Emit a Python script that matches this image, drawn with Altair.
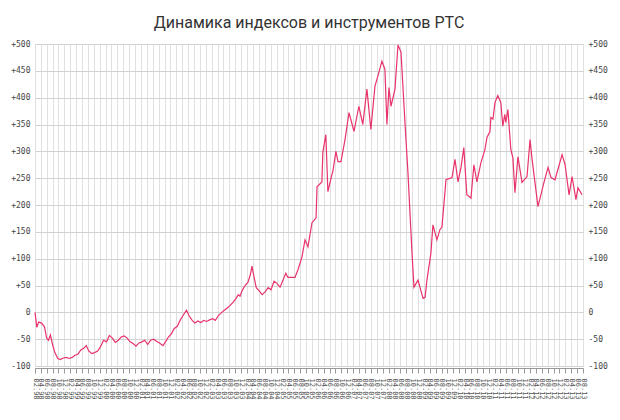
import altair as alt
import pandas as pd

dates = [
    "1998-02-01", "1998-02-20", "1998-03-10", "1998-04-10", "1998-05-10", "1998-06-01", "1998-06-20",
    "1998-07-10", "1998-08-01", "1998-08-25", "1998-09-25", "1998-10-20", "1998-11-20", "1998-12-20",
    "1999-01-20", "1999-02-20", "1999-03-20", "1999-04-20", "1999-05-20", "1999-06-20", "1999-07-15",
    "1999-08-10", "1999-09-10", "1999-10-10", "1999-11-10", "1999-12-10",
    "2000-01-10", "2000-02-10", "2000-03-10", "2000-04-10", "2000-05-10", "2000-06-10", "2000-07-10",
    "2000-08-10", "2000-09-10", "2000-10-10", "2000-11-10", "2000-12-10",
    "2001-01-10", "2001-02-10", "2001-03-10", "2001-04-10", "2001-05-10", "2001-06-10", "2001-07-10",
    "2001-08-10", "2001-09-15", "2001-10-10", "2001-11-10", "2001-12-10",
    "2002-01-10", "2002-02-10", "2002-03-10", "2002-04-10", "2002-05-15", "2002-06-10", "2002-07-10",
    "2002-08-10", "2002-09-10", "2002-10-10", "2002-11-10", "2002-12-10",
    "2003-01-10", "2003-02-10", "2003-03-10", "2003-04-10", "2003-05-10", "2003-06-10", "2003-07-10",
    "2003-08-10", "2003-09-10", "2003-10-10", "2003-11-01", "2003-11-20", "2003-12-10",
    "2004-01-10", "2004-02-10", "2004-03-05", "2004-03-22", "2004-04-10", "2004-05-05", "2004-06-05",
    "2004-07-05", "2004-08-05", "2004-09-05", "2004-10-05", "2004-11-05", "2004-12-05",
    "2005-01-06", "2005-03-07", "2005-03-28", "2005-06-09", "2005-07-09", "2005-08-20", "2005-09-21",
    "2005-10-21", "2005-12-02",
    "2006-01-13", "2006-01-23", "2006-03-14", "2006-03-24", "2006-04-24", "2006-05-15", "2006-06-25",
    "2006-07-05", "2006-08-06", "2006-08-27", "2006-09-27", "2006-11-08", "2006-12-19",
    "2007-02-09", "2007-03-31", "2007-05-11", "2007-06-22", "2007-08-02", "2007-09-13", "2007-10-24",
    "2007-11-24", "2007-12-25",
    "2008-01-15", "2008-02-05", "2008-02-26", "2008-04-07", "2008-05-08", "2008-06-08", "2008-07-19",
    "2008-08-19", "2008-09-30", "2008-10-20", "2008-12-01",
    "2009-01-22", "2009-02-12", "2009-03-03", "2009-04-13", "2009-05-04", "2009-06-14", "2009-07-15",
    "2009-08-05", "2009-09-16", "2009-11-17", "2009-12-18",
    "2010-01-18", "2010-02-18", "2010-03-19", "2010-04-19", "2010-06-01", "2010-07-01", "2010-08-01",
    "2010-09-12", "2010-10-23", "2010-11-13", "2010-12-14", "2010-12-24",
    "2011-01-14", "2011-02-04", "2011-03-05", "2011-04-05", "2011-04-26", "2011-05-16", "2011-05-27",
    "2011-06-17", "2011-07-18", "2011-08-08", "2011-08-29", "2011-09-29", "2011-11-10",
    "2012-01-01", "2012-02-01", "2012-02-22", "2012-04-23", "2012-06-24", "2012-08-05", "2012-09-05",
    "2012-10-16", "2012-12-28",
    "2013-01-28", "2013-03-10", "2013-04-10", "2013-05-20", "2013-06-10", "2013-07-22",
]

values = [
    0, -28, -18, -20, -27, -48, -52,
    -42, -60, -75, -86, -88, -85, -84,
    -86, -84, -80, -78, -70, -67, -62,
    -72, -77, -75, -72, -64,
    -52, -55, -43, -48, -56, -52, -46,
    -44, -48, -55, -58, -63,
    -57, -55, -52, -60, -52, -50, -54,
    -57, -62, -55, -46, -40,
    -30, -26, -15, -6, 4, -6, -14,
    -20, -16, -19, -15, -17,
    -14, -12, -15, -6, -1, 4, 8,
    13, 19, 26, 33, 30, 40,
    50, 56, 70, 86, 68, 46, 40,
    33, 38, 46, 42, 58, 54,
    47, 73, 65, 65, 79, 103, 135,
    122, 167,
    176, 234, 243, 298, 331, 225, 256,
    262, 300, 281, 281, 322, 372,
    337, 384, 350, 416, 341, 421, 447,
    468, 453,
    350, 419, 384, 416, 498, 485, 354,
    260, 110, 47, 60,
    26, 28, 60, 110, 163, 135, 154,
    159, 247, 251, 285,
    243, 270, 307, 219, 213, 275, 243,
    279, 303, 326, 337, 363,
    360, 391, 404, 391, 347, 369, 354,
    378, 303, 288, 223, 290, 242,
    253, 322, 285, 197, 242, 270, 251,
    247, 294,
    275, 219, 253, 210, 232, 219,
]

y_ticks = [-100, -50, 0, 50, 100, 150, 200, 250, 300, 350, 400, 450, 500]
tick_years = list(range(1998, 2014))
tick_months = [2, 4, 6, 8, 10, 12]
x_ticks = [
    alt.DateTime(year=yr, month=mo, date=1)
    for yr in tick_years for mo in tick_months
    if not (yr == 2013 and mo > 8)
]

df = pd.DataFrame({"date": pd.to_datetime(dates), "value": values})

x_scale = alt.Scale(domain=[alt.DateTime(year=1998, month=2, date=1),
                            alt.DateTime(year=2013, month=8, date=1)])
y_scale = alt.Scale(domain=[-100, 500], nice=False, zero=False)
label_expr = "datum.value > 0 ? '+' + datum.value : '' + datum.value"

x_axis = alt.Axis(values=x_ticks, format="%m.%y", labelAngle=90,
                  labelFont="DejaVu Sans Mono", labelFontSize=7, labelColor="#555",
                  tickColor="#999", tickSize=5, domainColor="#999", offset=2,
                  grid=True, gridColor="#e0e0e0", title=None, labelPadding=5,
                  labelOverlap=False, labelFlush=False, labelBound=False)

y_axis_common = dict(values=y_ticks, labelExpr=label_expr, tickSize=0, labelPadding=5,
                     domain=False, title=None, labelFont="DejaVu Sans Mono",
                     labelFontSize=8, labelColor="#444")

line = alt.Chart(df).mark_line(color="#e8336b", strokeWidth=1.2).encode(
    x=alt.X("date:T", scale=x_scale, axis=x_axis),
    y=alt.Y("value:Q", scale=y_scale,
            axis=alt.Axis(orient="left", gridColor="#d2d2d2", **y_axis_common)),
)

right = alt.Chart(df).mark_line(opacity=0).encode(
    x=alt.X("date:T", scale=x_scale, axis=x_axis),
    y=alt.Y("value:Q", scale=y_scale,
            axis=alt.Axis(orient="right", grid=False, **y_axis_common)),
)

chart = alt.layer(line, right).resolve_axis(y="independent").properties(
    width=548,
    height=322,
    autosize=alt.AutoSizeParams(type="none"),
    padding={"left": 27, "top": 36, "right": 29, "bottom": 46},
    title=alt.TitleParams("Динамика индексов и инструментов РТС", font="Roboto",
                          fontSize=16, fontWeight="normal", color="#333", offset=9),
).configure_view(stroke=None).configure(background="white")

chart.save("out.html", embed_options={"renderer": "svg", "actions": False})
